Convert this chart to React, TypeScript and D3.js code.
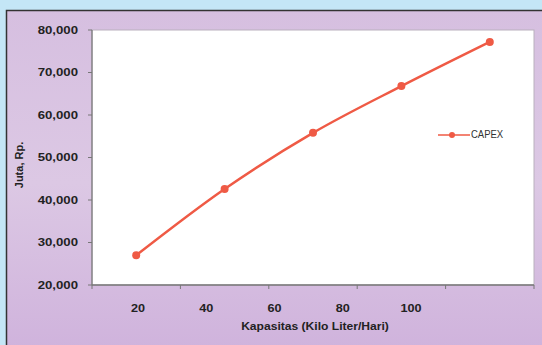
import React from "react";
import * as d3 from "d3";

const categories = ["20", "40", "60", "80", "100"];
const capex = [27000, 42600, 55800, 66800, 77200];
const yTicks = [20000, 30000, 40000, 50000, 60000, 70000, 80000];
const seriesName = "CAPEX";

export default function App() {
  const W = 542, H = 345;
  const plot = { left: 92, right: 534, top: 30, bottom: 285 };
  const x = d3.scaleBand<string>().domain(categories).range([plot.left, plot.right]);
  const xLabel = d3.scalePoint<string>().domain(categories).range([138, 411]);
  const y = d3.scaleLinear().domain([20000, 80000]).range([plot.bottom, plot.top]);
  const fmt = d3.format(",");
  const pts: [number, number][] = categories.map((c, i) => [x(c)! + x.bandwidth() / 2, y(capex[i])]);
  const line = d3.line().curve(d3.curveMonotoneX)(pts) || "";
  const tickXs = categories.map((c) => x(c)!).concat([plot.right]);
  const red = "#ef5a45";
  return (
    <svg width={W} height={H} style={{ position: "absolute", left: 0, top: 0 }} fontFamily="'Liberation Sans', Arial, sans-serif">
      <defs>
        <linearGradient id="bg" x1="0" y1="0" x2="0" y2="1">
          <stop offset="0" stopColor="#d6bfe0" />
          <stop offset="0.5" stopColor="#dcc8e4" />
          <stop offset="1" stopColor="#cfb2dc" />
        </linearGradient>
      </defs>
      <rect x={0} y={0} width={W} height={H} fill="#c4e6f6" />
      <rect x={6.5} y={10.5} width={W} height={H} fill="url(#bg)" stroke="#333" strokeWidth={1.5} />
      <rect x={plot.left} y={plot.top} width={plot.right - plot.left} height={plot.bottom - plot.top} fill="#ffffff" stroke="#b9b0bd" strokeWidth={1} />
      {/* axes */}
      <line x1={plot.left} x2={plot.left} y1={plot.top} y2={plot.bottom} stroke="#777" strokeWidth={1.2} />
      <line x1={plot.left} x2={plot.right} y1={plot.bottom} y2={plot.bottom} stroke="#777" strokeWidth={1.5} />
      {yTicks.map((t) => (
        <g key={t}>
          <line x1={plot.left - 4} x2={plot.left} y1={y(t)} y2={y(t)} stroke="#777" />
          <text x={78} y={y(t)} dy="0.35em" textAnchor="end" fontSize={11} fontWeight="bold" fill="#222" transform={`translate(78,0) scale(1.2,1) translate(-78,0)`}>
            {fmt(t)}
          </text>
        </g>
      ))}
      {tickXs.map((tx, i) => (
        <line key={i} x1={tx} x2={tx} y1={plot.bottom} y2={plot.bottom + 4} stroke="#777" />
      ))}
      {categories.map((c) => (
        <text key={c} x={xLabel(c)} y={308} dy="0.35em" textAnchor="middle" fontSize={11} fontWeight="bold" fill="#222" transform={`translate(${xLabel(c)},0) scale(1.15,1) translate(${-xLabel(c)!},0)`}>
          {c}
        </text>
      ))}
      <text x={315} y={326} dy="0.35em" textAnchor="middle" fontSize={11} fontWeight="bold" fill="#222" transform="translate(315,0) scale(1.1,1) translate(-315,0)">
        Kapasitas (Kilo Liter/Hari)
      </text>
      <text transform="translate(19,165) rotate(-90)" textAnchor="middle" dy="0.35em" fontSize={11} fontWeight="bold" fill="#222">
        Juta, Rp.
      </text>
      {/* series */}
      <path d={line} fill="none" stroke={red} strokeWidth={2.5} />
      {pts.map((p, i) => (
        <circle key={i} cx={p[0]} cy={p[1]} r={4} fill={red} />
      ))}
      {/* legend */}
      <line x1={438} x2={470} y1={135} y2={135} stroke={red} strokeWidth={1.5} />
      <circle cx={452} cy={135} r={3} fill={red} />
      <text x={471} y={135} dy="0.35em" fontSize={10} fill="#333" transform="translate(471,0) scale(0.95,1) translate(-471,0)">
        {seriesName}
      </text>
    </svg>
  );
}
